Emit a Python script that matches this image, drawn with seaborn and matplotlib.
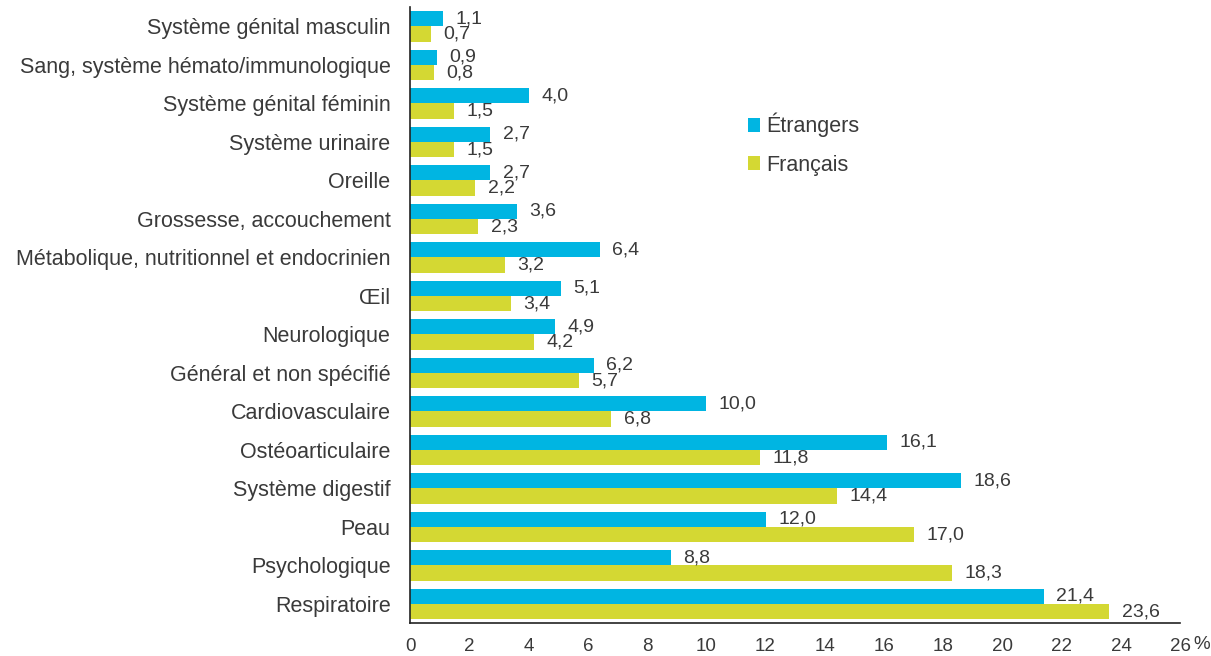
import pandas as pd
import seaborn as sns
import matplotlib.pyplot as plt

categories = [
    'Système génital masculin', 'Sang, système hémato/immunologique',
    'Système génital féminin', 'Système urinaire', 'Oreille',
    'Grossesse, accouchement', 'Métabolique, nutritionnel et endocrinien',
    'Œil', 'Neurologique', 'Général et non spécifié', 'Cardiovasculaire',
    'Ostéoarticulaire', 'Système digestif', 'Peau', 'Psychologique',
    'Respiratoire',
]
etrangers = [1.1, 0.9, 4.0, 2.7, 2.7, 3.6, 6.4, 5.1, 4.9, 6.2, 10.0, 16.1, 18.6, 12.0, 8.8, 21.4]
francais = [0.7, 0.8, 1.5, 1.5, 2.2, 2.3, 3.2, 3.4, 4.2, 5.7, 6.8, 11.8, 14.4, 17.0, 18.3, 23.6]
series = ['Étrangers', 'Français']
colors = ['#00b5e2', '#d4d833']
xticks = list(range(0, 27, 2))

df = pd.DataFrame({
    'cat': categories * 2,
    'val': etrangers + francais,
    'grp': [series[0]] * len(categories) + [series[1]] * len(categories),
})

sns.set_style('white')
plt.rcParams['font.family'] = ['Liberation Sans', 'DejaVu Sans']
txt = '#3a3a3a'

fig = plt.figure(figsize=(12.11, 6.56), dpi=100)
ax = fig.add_axes([0.3386, 0.05, 0.636, 0.939])

sns.barplot(data=df, y='cat', x='val', hue='grp', hue_order=series,
            palette=colors, orient='h', width=0.8, saturation=1,
            linewidth=0, errorbar=None, ax=ax)

# valeurs au bout des barres, virgule décimale
for cont in ax.containers:
    ax.bar_label(cont, labels=[f'{v:.1f}'.replace('.', ',') for v in cont.datavalues],
                 padding=9, fontsize=14, color=txt)

ax.set_xlim(0, 26)
ax.set_ylim(len(categories) - 0.5, -0.5)
ax.set_xticks(xticks)
ax.set_xticklabels([str(t) for t in xticks], fontsize=13.5, color=txt)
ax.set_yticks(range(len(categories)))
ax.set_yticklabels(categories, fontsize=15.5, color=txt)
ax.set_yticks([i - 0.5 for i in range(len(categories) + 1)], minor=True)
ax.tick_params(axis='y', which='major', length=0, pad=14)
ax.tick_params(axis='y', which='minor', length=6, width=1.2, color='#222')
ax.tick_params(axis='x', length=6, width=1.2, color='#222', pad=5)
ax.set_xlabel('')
ax.set_ylabel('')
for s in ['top', 'right']:
    ax.spines[s].set_visible(False)
for s in ['left', 'bottom']:
    ax.spines[s].set_color('#222')
    ax.spines[s].set_linewidth(1.2)

ax.legend(loc='upper left', bbox_to_anchor=(0.413, 0.86), frameon=False,
          fontsize=15.5, handlelength=0.6, handleheight=0.6,
          handletextpad=0.25, labelspacing=0.8, labelcolor=txt)

fig.text(0.999, 0.01, '%', fontsize=13.5, color=txt, ha='right')

fig.savefig('out.png', dpi=100)
